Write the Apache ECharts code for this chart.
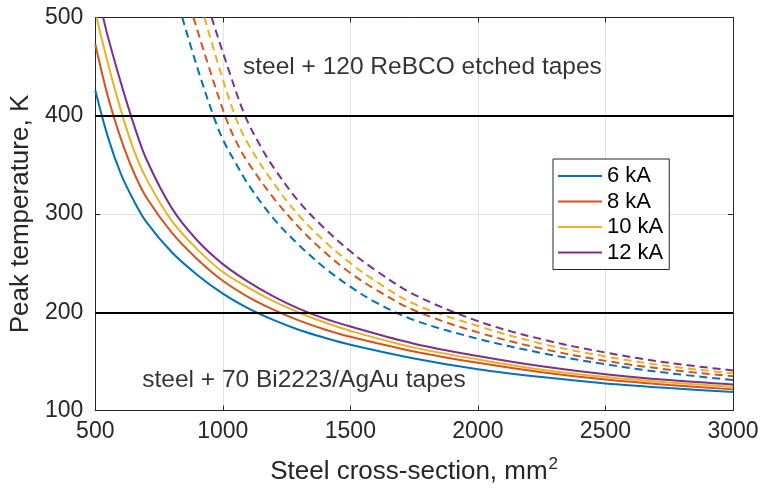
<!DOCTYPE html>
<html><head><meta charset="utf-8">
<script src="https://cdn.jsdelivr.net/npm/echarts@6/dist/echarts.min.js"></script>
<style>html,body{margin:0;padding:0;background:#fff}#c{width:762px;height:490px}</style>
</head><body><div id="c"></div>
<script>
const seriesNames = ['6 kA', '8 kA', '10 kA', '12 kA'];
const colors = ['#0072BD', '#D95319', '#EDB120', '#7E2F8E'];
const xTicks = [500, 1000, 1500, 2000, 2500, 3000];
const yTicks = [100, 200, 300, 400, 500];
const limitLevels = [200, 400];

// solid: steel + 70 Bi2223/AgAu tapes
const bi6 = [[500,426],[550,378],[600,341],[650,314],[700,292],[800,261],[900,238],[1000,219],[1100,204],[1200,192],[1300,182],[1400,174],[1500,167],[1750,153],[2000,142],[2250,134],[2500,127.5],[2750,122.8],[3000,118.8]];
const bi8 = [[500,473],[550,419],[600,377],[650,343],[700,317],[800,281],[900,254],[1000,232],[1100,215.5],[1200,202.5],[1300,191.5],[1400,182.5],[1500,175],[1750,160],[2000,148.5],[2250,139],[2500,131.5],[2750,126],[3000,121.5]];
const bi10 = [[505,500],[550,453],[600,406],[650,366],[700,336],[800,293],[900,264],[1000,241],[1100,225],[1200,211],[1300,199.5],[1400,189.5],[1500,181],[1750,164],[2000,152],[2250,141.5],[2500,134],[2750,128.5],[3000,124]];
const bi12 = [[531,500],[550,480],[600,434],[650,392],[700,356],[800,306],[900,273],[1000,249],[1100,231],[1200,216],[1300,203.5],[1400,193.5],[1500,185.5],[1750,168],[2000,155.5],[2250,145],[2500,137],[2750,131],[3000,126.5]];

// dashed: steel + 120 ReBCO etched tapes
const re6 = [[841,500],[900,449],[963,400],[1000,376],[1050,352],[1100,330],[1200,295],[1300,268],[1400,245],[1500,226],[1600,210],[1750,192],[2000,173],[2250,158.5],[2500,147],[2750,138],[3000,131]];
const re8 = [[885,500],[940,454],[1009,400],[1050,375],[1100,352],[1200,316],[1300,286],[1400,261],[1500,240],[1600,223],[1750,202],[2000,179.5],[2250,163],[2500,150.5],[2750,141.5],[3000,134.8]];
const re10 = [[928,500],[980,454],[1048,400],[1100,371],[1200,331],[1300,298],[1400,272],[1500,250],[1600,231.5],[1750,208.5],[2000,186],[2250,168],[2500,155],[2750,145],[3000,137.8]];
const re12 = [[956,500],[1020,449],[1087,400],[1150,368],[1200,347],[1300,312],[1400,285],[1500,262],[1600,242.5],[1750,218],[2000,191],[2250,172.5],[2500,159],[2750,148.5],[3000,140.8]];

const annotations = [
  {text: 'steel + 120 ReBCO etched tapes', x: 1079, y: 449},
  {text: 'steel + 70 Bi2223/AgAu tapes', x: 684, y: 130.5}
];

const solid = [bi6, bi8, bi10, bi12];
const dashed = [re6, re8, re10, re12];
const FONT = 'Liberation Sans, Arial, Helvetica, sans-serif';
const AX = '#262626';

const chart = echarts.init(document.getElementById('c'), null, {renderer: 'canvas'});
const series = [];
series.push({
  type: 'line', name: 'refs', data: [], silent: true,
  markLine: {
    symbol: 'none', silent: true, label: {show: false},
    lineStyle: {color: '#000', width: 2, type: 'solid'},
    data: limitLevels.map(v => ({yAxis: v}))
  }, z: 3
});
solid.forEach((d, i) => series.push({
  type: 'line', name: seriesNames[i], data: d, smooth: 0.35, showSymbol: false, symbol: 'none',
  lineStyle: {color: colors[i], width: 2}, itemStyle: {color: colors[i]}, z: 4, clip: true
}));
dashed.forEach((d, i) => series.push({
  type: 'line', name: seriesNames[i] + ' ReBCO', data: d, smooth: 0.35, showSymbol: false, symbol: 'none',
  lineStyle: {color: colors[i], width: 2, type: [8, 5]}, itemStyle: {color: colors[i]}, z: 4, clip: true
}));
series.push({
  type: 'scatter', name: 'ann', symbolSize: 0, silent: true,
  data: annotations.map(a => ({value: [a.x, a.y], label: {formatter: a.text}})),
  label: {show: true, position: 'right', distance: 0, color: '#000', fontSize: 24.5, fontFamily: FONT}
});

const axCommon = {
  axisLine: {show: true, lineStyle: {color: AX, width: 1}},
  axisTick: {show: true, inside: true, length: 5, lineStyle: {color: AX}},
  splitLine: {show: false}
};

chart.setOption({
  animation: false,
  backgroundColor: '#fff',
  grid: {left: 95, right: 29, top: 17.5, bottom: 76, show: false},
  legend: {
    data: seriesNames, left: 553, top: 159, orient: 'vertical',
    icon: 'rect', itemWidth: 44, itemHeight: 2, itemGap: 3.5,
    padding: [6, 6, 6, 5], backgroundColor: '#fff', borderColor: AX, borderWidth: 1,
    textStyle: {fontSize: 22, lineHeight: 22, color: '#000', fontFamily: FONT}
  },
  xAxis: [{
    type: 'value', min: 500, max: 3000, interval: 500, position: 'bottom',
    name: '{a|Steel cross-section, mm}{s|2}', nameLocation: 'middle', nameGap: 45,
    nameTextStyle: {rich: {a: {fontSize: 26, color: AX, fontFamily: FONT}, s: {fontSize: 17, color: AX, fontFamily: FONT, padding: [0, 0, 16, 1]}}},
    axisLabel: {fontSize: 23, color: AX, fontFamily: FONT, margin: 10, formatter: v => String(v)},
    ...axCommon,
    splitLine: {show: true, lineStyle: {color: '#e3e3e3', width: 1}}
  }, {
    type: 'value', min: 500, max: 3000, interval: 500, position: 'top',
    axisLabel: {show: false}, ...axCommon
  }],
  yAxis: [{
    type: 'value', min: 100, max: 500, interval: 100, position: 'left',
    name: 'Peak temperature, K', nameLocation: 'middle', nameGap: 51,
    nameTextStyle: {fontSize: 26, color: AX, fontFamily: FONT},
    axisLabel: {fontSize: 23, color: AX, fontFamily: FONT, margin: 12, formatter: v => String(v)},
    ...axCommon,
    splitLine: {show: true, lineStyle: {color: '#e3e3e3', width: 1}}
  }, {
    type: 'value', min: 100, max: 500, interval: 100, position: 'right',
    axisLabel: {show: false}, ...axCommon
  }],
  series: series
});
</script></body></html>
